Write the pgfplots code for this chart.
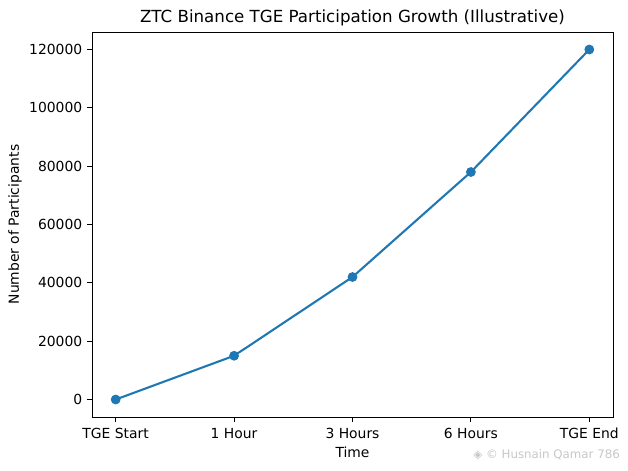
\documentclass[border=0pt]{standalone}
\usepackage{pgfplots}
\pgfplotsset{compat=1.18}
\usepackage{fontspec}
\setmainfont{DejaVu Sans}
\definecolor{tabblue}{HTML}{1F77B4}
\begin{document}
\begin{tikzpicture}
\useasboundingbox (-66.24pt,-38.16pt) rectangle (385.92pt,300.24pt);
\begin{axis}[
  name=ax,
  at={(0,0)}, anchor=south west,
  scale only axis, width=375.12pt, height=277.2pt,
  xmin=-0.2, xmax=4.2, ymin=-6000, ymax=126000,
  xtick={0,1,2,3,4},
  xticklabels={TGE Start,1 Hour,3 Hours,6 Hours,TGE End},
  ytick={0,20000,40000,60000,80000,100000,120000},
  scaled y ticks=false,
  /pgf/number format/.cd, fixed, 1000 sep={}, assume math mode=true,
  /pgfplots/.cd,
  tick align=outside, major tick length=3.5pt,
  tick style={black, line width=0.6pt},
  axis line style={line width=0.6pt},
  xtick pos=bottom, ytick pos=left,
  ticklabel style={font=\fontsize{10pt}{12pt}\selectfont},
  xticklabel style={yshift=-1pt},
  xlabel={Time}, ylabel={Number of Participants},
  every axis x label/.style={at={(axis description cs:0.5,-0.0909)}, anchor=center, font=\fontsize{10pt}{12pt}\selectfont},
  every axis y label/.style={at={(axis description cs:-0.1477,0.5)}, anchor=center, rotate=90, font=\fontsize{10pt}{12pt}\selectfont},
  title={ZTC Binance TGE Participation Growth (Illustrative)},
  every axis title/.style={at={(axis description cs:0.5,1.0364)}, anchor=center, font=\fontsize{12pt}{14pt}\selectfont},
]
\addplot[color=tabblue, line width=1.5pt, mark=*, mark size=3pt, mark options={solid, fill=tabblue, draw=tabblue, line width=1pt}] coordinates {
(0,0) (1,15000) (2,42000) (3,78000) (4,120000)
};
\end{axis}
\node[font=\fontsize{8.5pt}{10pt}\selectfont, text=black!22, anchor=east, inner sep=0pt] at ([xshift=5.1pt,yshift=-27.4pt]ax.south east) {◈ © Husnain Qamar 786};
\end{tikzpicture}
\end{document}
